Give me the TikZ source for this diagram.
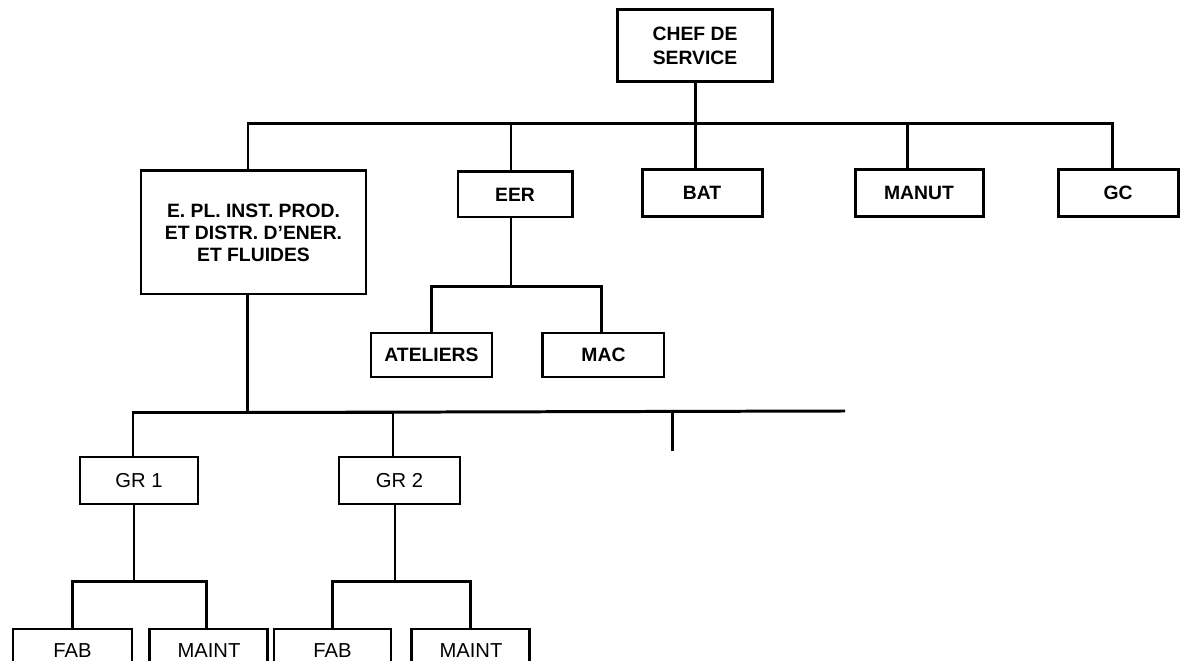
\documentclass[tikz,border=0pt]{standalone}
\usepackage{fontspec}
\setmainfont{Liberation Sans}
\usetikzlibrary{positioning}
\newlength{\upx}
\setlength{\upx}{0.02cm}

\begin{document}
\begin{tikzpicture}[
        % one unit is one pixel of the chart
        x=0.02cm, y=-0.02cm,
        % Style for the service boxes
        unitbox/.style={rectangle, draw=black, line width=1.7pt, fill=white, align=center, inner sep=0pt, minimum height=47\upx, font=\fontsize{11}{12.5}\selectfont\bfseries},
        % lighter print for the lower boxes
        lowbox/.style={unitbox, font=\fontsize{11.5}{12.5}\selectfont},
        % Style for the links
        link/.style={line width=1.7pt}
    ]
    \useasboundingbox (0,0) rectangle (1180,661);

    % --- TOP ---
    \node (chef) [unitbox, minimum width=155\upx, minimum height=72\upx, font=\fontsize{11}{14}\selectfont\bfseries] at (695,46) {CHEF DE\\SERVICE};
    \coordinate (hub) at (696,124);

    % --- ROW 1 ---
    \node (epl) [unitbox, minimum width=225\upx, minimum height=123\upx] at (253.5,232.5) {E. PL. INST. PROD.\\ET DISTR. D'ENER.\\ET FLUIDES};
    \node (eer) [unitbox, minimum width=114\upx, minimum height=45\upx] at (515,194.5) {EER};
    \node (bat) [unitbox, minimum width=120\upx] at (702,193) {BAT};
    \node (manut) [unitbox, minimum width=128\upx] at (919,193) {MANUT};
    \node (gc) [unitbox, minimum width=120\upx] at (1118,193) {GC};

    % --- ROW 2 ---
    \node (ateliers) [unitbox, minimum width=121\upx, minimum height=44\upx] at (431.5,355) {ATELIERS};
    \node (mac) [unitbox, minimum width=121\upx, minimum height=44\upx, right=48\upx of ateliers] {MAC};

    % --- ROW 3 ---
    \node (gr1) [lowbox, minimum width=118\upx] at (139,480.5) {GR 1};
    \node (gr2) [lowbox, minimum width=121\upx] at (399.5,480.5) {GR 2};
    \coordinate (lowend) at (845,411);
    \coordinate (openstem) at (672,451);

    % --- ROW 4 ---
    \node (fab1) [lowbox, minimum width=119\upx, minimum height=44\upx] at (72.5,651) {FAB};
    \node (maint1) [lowbox, minimum width=118\upx, minimum height=44\upx, right=15\upx of fab1] {MAINT};
    \node (fab2) [lowbox, minimum width=117\upx, minimum height=44\upx] at (332.5,651) {FAB};
    \node (maint2) [lowbox, minimum width=118\upx, minimum height=44\upx, right=18\upx of fab2] {MAINT};

    % --- LINKS ---
    \draw[link] (chef.south) -- (chef.south |- bat.north);
    \draw[link] ([xshift=-5.5\upx]epl.north) |- (hub) -| ([xshift=-6\upx]gc.north);
    \draw[link] ([xshift=-4\upx]eer.north) |- (hub);
    \draw[link] ([xshift=-12\upx]manut.north) |- (hub);

    \draw[link] ([xshift=-4\upx]eer.south) -- ++(0,68.5) coordinate (eerfork);
    \draw[link] (ateliers.north) |- (eerfork) -| ([xshift=-2\upx]mac.north);

    \draw[link] ([xshift=-6\upx]epl.south) -- ++(0,117) coordinate (lowhub);
    \draw[link] ([xshift=-6\upx]gr1.north) |- (lowhub) -| ([xshift=-6.5\upx]gr2.north);
    \draw[link] (lowhub) -- (lowend);
    \draw[link] (openstem) -- (openstem |- lowend);

    \draw[link] ([xshift=-5\upx]gr1.south) -- ++(0,76) coordinate (gr1fork);
    \draw[link] (fab1.north) |- (gr1fork) -| ([xshift=-2\upx]maint1.north);
    \draw[link] ([xshift=-4.5\upx]gr2.south) -- ++(0,76) coordinate (gr2fork);
    \draw[link] (fab2.north) |- (gr2fork) -| (maint2.north);

\end{tikzpicture}
\end{document}
